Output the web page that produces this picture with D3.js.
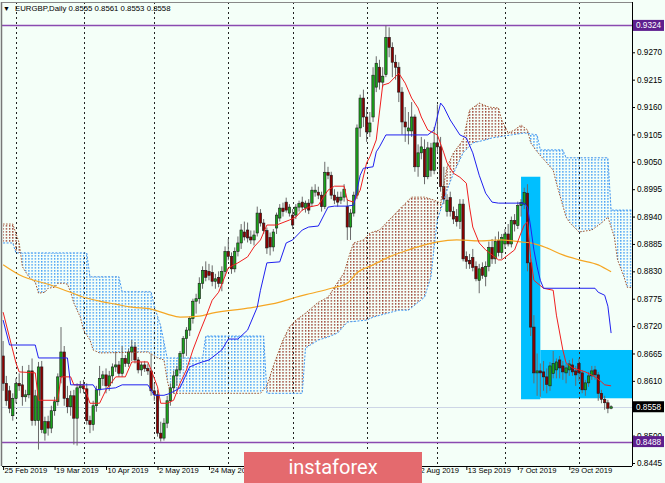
<!DOCTYPE html>
<html><head><meta charset="utf-8">
<script src="https://cdn.jsdelivr.net/npm/d3@7"></script>
<style>html,body{margin:0;padding:0;background:#F4FFF8;}svg{display:block;}</style>
</head><body>
<svg id="c" width="665" height="483"></svg>
<script>
// ---------- DATA ----------
const symbolTitle = "EURGBP,Daily";
const lastQuote = [0.8555, 0.8561, 0.8553, 0.8558];
const opens = [.8660,.8605,.8590,.8540,.8575,.8605,.8602,.8578,.8582,.8630,.8530,.8530,.8638,.8505,.8528,.8515,.8550,.8568,.8618,.8668,
.8575,.8558,.8580,.8535,.8596,.8600,.8594,.8530,.8522,.8560,.8592,.8615,.8622,.8600,.8620,.8638,.8642,.8625,.8655,.8645,
.8668,.8678,.8652,.8632,.8642,.8635,.8630,.8590,.8582,.8505,.8495,.8525,.8570,.8596,.8620,.8632,.8665,.8695,.8712,.8735,
.8770,.8775,.8806,.8832,.8830,.8828,.8810,.8818,.8806,.8830,.8870,.8860,.8835,.8870,.8887,.8909,.8913,.8899,.8893,.8907,
.8947,.8927,.8912,.8898,.8879,.8917,.8937,.8957,.8969,.8947,.8943,.8943,.8959,.8969,.8957,.8967,.8967,.8989,.8989,.8983,
.8960,.9029,.9023,.8983,.8979,.8973,.8979,.8960,.8919,.8947,.8983,.9118,.9178,.9140,.9110,.9140,.9200,.9240,.9210,.9225,
.9300,.9280,.9250,.9240,.9190,.9130,.9112,.9112,.9140,.9040,.9068,.9075,.9020,.9078,.9033,.9088,.9080,.9000,.8950,.8978,
.8950,.8940,.8930,.8965,.8860,.8852,.8858,.8840,.8812,.8838,.8820,.8840,.8878,.8855,.8892,.8868,.8885,.8905,.8885,.8932,
.8922,.8962,.8965,.8987,.8847,.8718,.8626,.8630,.8628,.8618,.8600,.8625,.8632,.8652,.8640,.8626,.8632,.8642,.8630,.8645,
.8626,.8592,.8606,.8620,.8632,.8622,.8585,.8573,.8566,.8555];
const highs = [.8690,.8620,.8600,.8585,.8615,.8625,.8640,.8592,.8642,.8655,.8592,.8648,.8650,.8538,.8540,.8560,.8578,.8625,.8718,.8680,
.8600,.8590,.8592,.8605,.8610,.8612,.8605,.8540,.8570,.8600,.8640,.8630,.8635,.8630,.8645,.8668,.8650,.8680,.8662,.8675,
.8692,.8688,.8658,.8648,.8650,.8645,.8665,.8605,.8592,.8528,.8535,.8580,.8605,.8630,.8640,.8670,.8700,.8718,.8740,.8775,
.8785,.8818,.8840,.8850,.8845,.8842,.8825,.8830,.8840,.8880,.8895,.8868,.8878,.8900,.8925,.8930,.8928,.8912,.8912,.8960,
.8955,.8935,.8918,.8908,.8915,.8948,.8965,.8968,.8978,.8965,.8955,.8965,.8972,.8980,.8972,.8975,.9000,.9005,.9000,.8990,
.9050,.9040,.9030,.8995,.8990,.8990,.9005,.8975,.8955,.8990,.9125,.9185,.9195,.9160,.9150,.9240,.9262,.9255,.9240,.9324,
.9320,.9290,.9265,.9250,.9200,.9160,.9150,.9170,.9145,.9085,.9100,.9095,.9090,.9088,.9120,.9165,.9100,.9040,.8985,.8990,
.8960,.8955,.8975,.8975,.8870,.8865,.8875,.8850,.8845,.8848,.8850,.8890,.8895,.8900,.8910,.8905,.8915,.8925,.8940,.8945,
.8970,.8975,.8998,.9005,.8855,.8742,.8665,.8645,.8650,.8635,.8648,.8670,.8655,.8660,.8650,.8645,.8652,.8655,.8640,.8655,
.8632,.8612,.8628,.8640,.8640,.8628,.8592,.8580,.8572,.8561];
const lows = [.8590,.8560,.8545,.8530,.8565,.8590,.8560,.8568,.8575,.8520,.8520,.8472,.8505,.8490,.8500,.8505,.8540,.8560,.8605,.8560,
.8545,.8540,.8482,.8480,.8585,.8585,.8522,.8505,.8510,.8548,.8580,.8600,.8585,.8590,.8605,.8628,.8618,.8618,.8638,.8638,
.8650,.8645,.8625,.8620,.8628,.8622,.8580,.8570,.8498,.8488,.8490,.8515,.8560,.8585,.8600,.8625,.8655,.8660,.8700,.8725,
.8745,.8765,.8795,.8810,.8812,.8800,.8795,.8798,.8790,.8820,.8852,.8825,.8828,.8860,.8875,.8892,.8888,.8885,.8882,.8900,
.8920,.8905,.8865,.8862,.8870,.8905,.8930,.8940,.8948,.8940,.8915,.8935,.8950,.8952,.8948,.8945,.8960,.8980,.8975,.8950,
.8955,.9015,.8975,.8965,.8960,.8965,.8970,.8893,.8893,.8940,.8975,.9100,.9120,.9090,.9100,.9130,.9190,.9195,.9200,.9220,
.9260,.9220,.9215,.9170,.9105,.9090,.9085,.9100,.9030,.9020,.9055,.9005,.9015,.9020,.9025,.9070,.8990,.8965,.8940,.8940,
.8925,.8920,.8915,.8850,.8835,.8835,.8830,.8810,.8786,.8815,.8800,.8830,.8845,.8845,.8860,.8855,.8875,.8880,.8878,.8910,
.8915,.8940,.8955,.8830,.8700,.8605,.8580,.8578,.8590,.8585,.8590,.8615,.8615,.8615,.8612,.8605,.8620,.8620,.8600,.8610,
.8585,.8580,.8598,.8612,.8612,.8570,.8565,.8552,.8545,.8553];
const closes = [.8605,.8570,.8555,.8575,.8605,.8600,.8578,.8582,.8630,.8530,.8580,.8638,.8512,.8528,.8515,.8550,.8568,.8618,.8668,.8575,
.8558,.8580,.8535,.8596,.8600,.8594,.8530,.8522,.8560,.8592,.8615,.8622,.8600,.8620,.8638,.8642,.8625,.8655,.8645,.8668,
.8678,.8652,.8632,.8642,.8635,.8630,.8590,.8582,.8505,.8495,.8525,.8570,.8596,.8620,.8632,.8665,.8695,.8712,.8735,.8770,
.8775,.8806,.8832,.8818,.8822,.8810,.8815,.8806,.8830,.8870,.8860,.8835,.8870,.8887,.8913,.8899,.8897,.8893,.8903,.8947,
.8927,.8912,.8877,.8879,.8909,.8943,.8957,.8950,.8953,.8959,.8923,.8959,.8966,.8959,.8967,.8953,.8993,.8993,.8983,.8960,
.9029,.9023,.8983,.8973,.8969,.8979,.8995,.8919,.8947,.8983,.9118,.9178,.9140,.9110,.9128,.9224,.9248,.9210,.9222,.9300,
.9280,.9250,.9240,.9190,.9130,.9120,.9118,.9140,.9040,.9068,.9080,.9020,.9078,.9033,.9088,.9080,.9000,.8975,.8973,.8950,
.8935,.8930,.8965,.8855,.8850,.8845,.8838,.8815,.8835,.8822,.8840,.8878,.8855,.8890,.8868,.8898,.8905,.8885,.8932,.8925,
.8962,.8968,.8988,.8847,.8718,.8626,.8630,.8626,.8618,.8603,.8640,.8645,.8648,.8636,.8628,.8636,.8644,.8628,.8622,.8626,
.8592,.8606,.8620,.8630,.8622,.8585,.8573,.8566,.8555,.8558];

// Ichimoku / MA lines: [bar index, price]
const tenkanPts = [[0,.8748],[4,.8646],[5,.8628],[10,.8626],[11,.8571],[17,.8571],[18,.8618],[21,.8618],[22,.8602],[25,.8602],[27,.8565],[30,.8565],[32,.8592],[35,.8618],[38,.8618],[40,.8648],[45,.8648],[46,.8632],[48,.8598],[49,.8565],[51,.8565],[53,.8571],[55,.8605],[57,.8632],[59,.8672],[61,.8706],[63,.8738],[65,.8772],[67,.8788],[70,.8837],[73,.8847],[76,.8859],[78,.8879],[80,.8893],[82,.8923],[85,.8923],[89,.8933],[91,.8939],[93,.8953],[95,.8959],[98,.8963],[101,.8993],[103,.9001],[106,.9001],[107,.8973],[109,.8969],[111,.8993],[113,.9048],[114,.9060],[116,.9094],[117,.9150],[118,.9204],[120,.9208],[123,.9228],[125,.9208],[127,.9178],[129,.9158],[130,.9140],[132,.9114],[135,.9104],[137,.9068],[138,.9048],[140,.9027],[142,.9019],[144,.9007],[145,.8959],[146,.8919],[148,.8887],[150,.8873],[154,.8853],[155,.8853],[157,.8863],[159,.8873],[161,.8907],[162,.8923],[163,.8929],[164,.8857],[165,.8812],[168,.8796],[171,.8792],[172,.8742],[174,.8672],[175,.8646],[177,.8636],[181,.8628],[184,.8618],[186,.8608],[187,.8602],[189,.8600]];
const kijunPts = [[0,.8732],[2,.8682],[10,.8682],[11,.8656],[20,.8656],[21,.8602],[28,.8602],[29,.8592],[35,.8596],[37,.8602],[45,.8602],[47,.8581],[50,.8581],[52,.8585],[55,.8596],[58,.8638],[61,.8646],[64,.8652],[68,.8672],[70,.8694],[73,.8694],[76,.8712],[79,.8758],[80,.8792],[82,.8847],[86,.8849],[88,.8887],[90,.8893],[93,.8913],[95,.8919],[98,.8921],[101,.8959],[103,.8961],[107,.8961],[109,.8963],[111,.9023],[112,.9037],[115,.9040],[116,.9070],[117,.9080],[119,.9104],[132,.9104],[134,.9114],[136,.9168],[137,.9160],[139,.9134],[142,.9104],[144,.9098],[146,.9068],[148,.9023],[150,.8987],[152,.8969],[154,.8967],[162,.8967],[163,.8959],[164,.8919],[165,.8873],[166,.8839],[167,.8812],[168,.8796],[184,.8796],[185,.8788],[187,.8782],[188,.8760],[189,.8706]];
const spanAPts = [[0,.8925],[3,.8925],[5,.8887],[6,.8839],[8,.8819],[10,.8808],[11,.8786],[13,.8788],[14,.8796],[16,.8798],[17,.8806],[19,.8806],[20,.8804],[21,.8788],[22,.8766],[24,.8738],[25,.8712],[27,.8692],[28,.8672],[30,.8666],[45,.8668],[48,.8656],[50,.8652],[51,.8612],[52,.8585],[80,.8585],[82,.8600],[84,.8640],[87,.8692],[89,.8718],[91,.8732],[94,.8746],[98,.8768],[101,.8778],[104,.8808],[106,.8827],[108,.8870],[109,.8887],[112,.8893],[114,.8907],[117,.8913],[120,.8933],[124,.8960],[127,.8979],[131,.8979],[134,.8973],[136,.8967],[138,.9040],[140,.9068],[143,.9094],[145,.9154],[148,.9168],[151,.9160],[154,.9158],[155,.9134],[157,.9108],[159,.9114],[161,.9124],[163,.9114],[164,.9088],[166,.9070],[171,.9033],[172,.9007],[175,.8939],[176,.8929],[179,.8909],[183,.8913],[186,.8927],[188,.8939],[190,.8899],[191,.8853],[193,.8819],[194,.8798],[197,.8796]];
const spanBPts = [[0,.8887],[3,.8887],[4,.8867],[26,.8867],[27,.8819],[36,.8819],[37,.8789],[46,.8789],[47,.8760],[49,.8720],[51,.8656],[62,.8656],[63,.8700],[81,.8700],[82,.8585],[93,.8585],[94,.8676],[98,.8692],[101,.8698],[104,.8706],[107,.8728],[113,.8732],[115,.8738],[123,.8752],[126,.8752],[131,.8778],[133,.8819],[134,.8879],[135,.8933],[138,.8993],[140,.9027],[143,.9068],[146,.9088],[150,.9094],[152,.9098],[158,.9104],[162,.9108],[166,.9104],[167,.9074],[174,.9074],[175,.9058],[188,.9058],[189,.8953],[197,.8953]];
const maPts = [[0,.8843],[5,.8823],[15,.8802],[20,.8790],[25,.8778],[30,.8770],[35,.8764],[40,.8758],[46,.8754],[51,.8744],[55,.8738],[61,.8740],[65,.8746],[76,.8756],[86,.8768],[91,.8778],[96,.8786],[102,.8796],[107,.8806],[110,.8827],[115,.8843],[120,.8859],[126,.8873],[131,.8883],[135,.8889],[141,.8893],[148,.8891],[155,.8893],[161,.8889],[164,.8887],[169,.8877],[174,.8863],[179,.8853],[185,.8843],[189,.8829]];

// axis ticks / labels (0.8555 is hidden behind the current-price box in the reference)
const yTickValues = [0.9270,0.9215,0.9160,0.9105,0.9050,0.8995,0.8940,0.8885,0.8830,0.8775,0.8720,0.8665,0.8610,0.8500,0.8445];
const xTickIdx = [0,16,32,48,64,80,96,112,128,144,160,176];
const xTickLabels = ["25 Feb 2019","19 Mar 2019","10 Apr 2019","2 May 2019","24 May 2019","17 Jun 2019","9 Jul 2019","31 Jul 2019","22 Aug 2019","13 Sep 2019","7 Oct 2019","29 Oct 2019"];
const monthGridIdx = [4,25,47,70,90,113,135,156,179];
const levelLines = [0.9324, 0.8488];
const currentPrice = 0.8558;
const zones = [{i0:161,i1:167,p0:0.9020,p1:0.8573},{i0:167,i1:200,p0:0.8672,p1:0.8575}];

// ---------- LAYOUT ----------
const W=665,H=483;
const P={l:2,r:632,t:2,b:466};
const FONT="'Liberation Sans', Arial, sans-serif";
const x = d3.scaleLinear().domain([0,189]).range([3.1,611.1]);
const y = d3.scaleLinear().domain([0.8445,0.9324]).range([463,25.4]);
const step = x(1)-x(0);

const svg = d3.select("#c");
svg.append("rect").attr("width",W).attr("height",H).attr("fill","#F4FFF8");
const defs = svg.append("defs");
defs.append("clipPath").attr("id","plot").append("rect").attr("x",P.l).attr("y",P.t).attr("width",P.r-P.l).attr("height",P.b-P.t);
function mkPattern(id,col){
  const p=defs.append("pattern").attr("id",id).attr("patternUnits","userSpaceOnUse")
    .attr("x",x(0)-0.6).attr("y",0).attr("width",step).attr("height",3);
  p.append("rect").attr("x",0).attr("y",0).attr("width",1.3).attr("height",1.7).attr("fill",col);
}
mkPattern("hatchBlue","#4DA3F5");
mkPattern("hatchBrown","#A04A3C");
const lineB = d3.line().x(d=>x(d[0])).y(d=>y(d[1]));
const bAbove = d3.area().x(d=>x(d[0])).y0(0).y1(d=>y(d[1]));
const bBelow = d3.area().x(d=>x(d[0])).y0(H).y1(d=>y(d[1]));
const ext = [[-5,spanBPts[0][1]],...spanBPts,[220,spanBPts[spanBPts.length-1][1]]];
defs.append("clipPath").attr("id","aboveB").append("path").attr("d",bAbove(ext));
defs.append("clipPath").attr("id","belowB").append("path").attr("d",bBelow(ext));

const g = svg.append("g").attr("clip-path","url(#plot)");

// zones
g.selectAll("rect.zone").data(zones).join("rect").attr("class","zone")
  .attr("x",d=>x(d.i0)).attr("width",d=>x(d.i1)-x(d.i0))
  .attr("y",d=>y(d.p0)).attr("height",d=>y(d.p1)-y(d.p0)).attr("fill","#00BFFF");

// cloud fill: polygon between A and B
const spanIdx = Array.from(new Set([...spanAPts.map(d=>d[0]),...spanBPts.map(d=>d[0])])).sort((a,b)=>a-b);
const interp = (pts,i)=>{ for(let k=1;k<pts.length;k++){ if(i<=pts[k][0]){const a=pts[k-1],b=pts[k];return a[1]+(b[1]-a[1])*(i-a[0])/(b[0]-a[0]);} } return pts[pts.length-1][1]; };
const cloudArea = d3.area().x(d=>x(d)).y0(d=>y(interp(spanBPts,d))).y1(d=>y(interp(spanAPts,d)));
g.append("path").attr("d",cloudArea(spanIdx)).attr("fill","url(#hatchBrown)").attr("clip-path","url(#aboveB)");
g.append("path").attr("d",cloudArea(spanIdx)).attr("fill","url(#hatchBlue)").attr("clip-path","url(#belowB)");

// month grid
g.selectAll("line.vg").data(monthGridIdx).join("line").attr("class","vg")
  .attr("x1",d=>Math.round(x(d))+0.5).attr("x2",d=>Math.round(x(d))+0.5).attr("y1",P.t).attr("y2",P.b)
  .attr("stroke","#222").attr("stroke-width",1).attr("stroke-dasharray","2,3");

// level lines
g.selectAll("line.lvl").data(levelLines).join("line").attr("class","lvl")
  .attr("x1",P.l).attr("x2",P.r).attr("y1",d=>Math.round(y(d))+0.5).attr("y2",d=>Math.round(y(d))+0.5)
  .attr("stroke","#8A4AB0").attr("stroke-width",1.3);
g.append("line").attr("x1",P.l).attr("x2",P.r).attr("y1",Math.round(y(currentPrice))+0.5).attr("y2",Math.round(y(currentPrice))+0.5)
  .attr("stroke","#CDD6E6").attr("stroke-width",1);

// candles
const bars = d3.range(closes.length);
g.selectAll("line.wick").data(bars).join("line").attr("class","wick")
  .attr("x1",i=>x(i)).attr("x2",i=>x(i)).attr("y1",i=>y(highs[i])).attr("y2",i=>y(lows[i]))
  .attr("stroke","#6a6a6a").attr("stroke-width",1);
g.selectAll("rect.body").data(bars).join("rect").attr("class","body")
  .attr("x",i=>x(i)-1.2).attr("width",2.4)
  .attr("y",i=>y(Math.max(opens[i],closes[i])))
  .attr("height",i=>Math.max(1,Math.abs(y(opens[i])-y(closes[i]))))
  .attr("fill",i=>closes[i]>=opens[i]?"#1AA31A":"#8B0000")
  .attr("stroke","#1a1a1a").attr("stroke-width",0.6);

// cloud outlines
g.append("path").attr("d",lineB(spanAPts)).attr("fill","none").attr("stroke","#A0522D").attr("stroke-width",1).attr("stroke-dasharray","1.5,1.5");
g.append("path").attr("d",lineB(spanBPts)).attr("fill","none").attr("stroke","#3D95F2").attr("stroke-width",1).attr("stroke-dasharray","2,1.5");
// MA
g.append("path").attr("d",d3.line().x(d=>x(d[0])).y(d=>y(d[1])).curve(d3.curveMonotoneX)(maPts))
  .attr("fill","none").attr("stroke","#F5A623").attr("stroke-width",1.2);
// Tenkan / Kijun
g.append("path").attr("d",lineB(tenkanPts)).attr("fill","none").attr("stroke","#F02020").attr("stroke-width",1);
g.append("path").attr("d",lineB(kijunPts)).attr("fill","none").attr("stroke","#2020F0").attr("stroke-width",1);

// frame
svg.append("line").attr("x1",1.5).attr("x2",1.5).attr("y1",P.t).attr("y2",P.b).attr("stroke","#777").attr("stroke-width",1.5);
svg.append("line").attr("x1",P.l).attr("x2",P.r).attr("y1",P.t+0.5).attr("y2",P.t+0.5).attr("stroke","#888");

// right axis
const ya = svg.append("g").attr("transform",`translate(${P.r},0)`)
  .call(d3.axisRight(y).tickValues(yTickValues).tickSize(3).tickPadding(2).tickFormat(d3.format(".4f")));
ya.select(".domain").remove();
ya.selectAll("text").attr("font-family",FONT).attr("font-size",8.2).attr("fill","#000");
ya.selectAll("line").attr("stroke","#000");
svg.append("line").attr("x1",P.r+0.5).attr("x2",P.r+0.5).attr("y1",P.t).attr("y2",P.b).attr("stroke","#000");

// bottom axis
const xa = svg.append("g").attr("transform",`translate(0,${P.b})`)
  .call(d3.axisBottom(x).tickValues(xTickIdx).tickSize(4).tickFormat((d,k)=>xTickLabels[k]));
xa.select(".domain").remove();
xa.selectAll("text").attr("font-family",FONT).attr("font-size",7.6).attr("fill","#000").attr("text-anchor","start").attr("x",1).attr("dy","0.55em").attr("y",3);
xa.selectAll("line").attr("stroke","#000");
svg.append("line").attr("x1",P.l).attr("x2",P.r).attr("y1",P.b+0.5).attr("y2",P.b+0.5).attr("stroke","#000");

// price label boxes
const boxes = [{v:levelLines[0],fill:"#5E1F8E"},{v:levelLines[1],fill:"#5E1F8E"},{v:currentPrice,fill:"#000"}];
const bx = svg.selectAll("g.box").data(boxes).join("g").attr("class","box");
bx.append("rect").attr("x",P.r+1).attr("y",d=>y(d.v)-5.5).attr("width",W-P.r-2).attr("height",11).attr("fill",d=>d.fill);
bx.append("text").attr("x",P.r+4).attr("y",d=>y(d.v)+3).attr("font-family",FONT).attr("font-size",8.2).attr("fill","#fff").text(d=>d3.format(".4f")(d.v));

// header
svg.append("text").attr("x",3).attr("y",11).attr("font-family",FONT).attr("font-size",7).attr("fill","#000").text("▼");
svg.append("text").attr("x",15).attr("y",11).attr("font-family",FONT).attr("font-size",7.8).attr("fill","#000")
  .text(symbolTitle+" "+lastQuote.map(d3.format(".4f")).join(" "));

// banner
svg.append("rect").attr("x",244).attr("y",452).attr("width",178).attr("height",31).attr("fill","#E46A6E");
svg.append("text").attr("x",333).attr("y",474).attr("text-anchor","middle").attr("font-family","Roboto, 'Open Sans', sans-serif")
  .attr("font-size",20).attr("fill","#fff").text("instaforex");
</script>
</body></html>
